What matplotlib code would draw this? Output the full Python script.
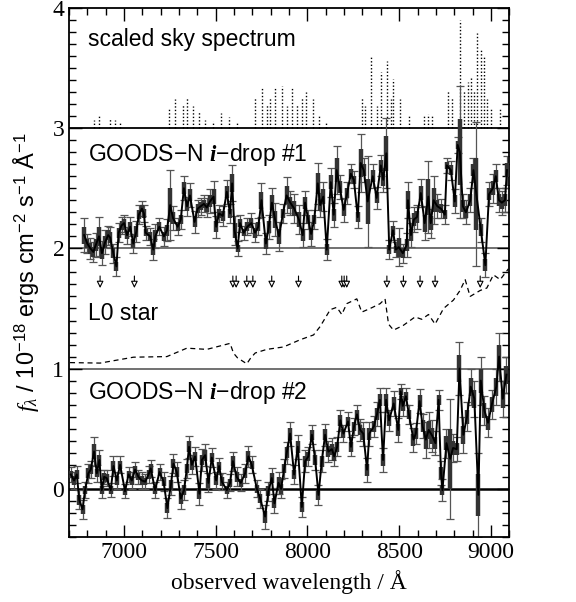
import matplotlib
matplotlib.use("Agg")
import matplotlib.pyplot as plt
import numpy as np
from matplotlib.ticker import MultipleLocator

plt.rcParams['font.family'] = ['Liberation Serif', 'DejaVu Serif']
plt.rcParams['mathtext.fontset'] = 'custom'
plt.rcParams['mathtext.rm'] = 'Liberation Sans'
plt.rcParams['mathtext.it'] = 'Liberation Serif:italic'
plt.rcParams['mathtext.bf'] = 'Liberation Serif:italic:bold'

# sky emission lines (wavelength / A, height above offset)
sky_wl = [6833, 6865, 6924, 6951, 6978, 7242, 7278, 7320, 7342, 7374, 7409, 7442,
          7482, 7527, 7574, 7614, 7714, 7751, 7778, 7793, 7824, 7860, 7887, 7918,
          7942, 7969, 7993, 8029, 8065, 8102, 8296, 8314, 8347, 8378, 8402, 8433,
          8454, 8469, 8502, 8551, 8633, 8656, 8678, 8769, 8787, 8832, 8854, 8878,
          8893, 8909, 8923, 8945, 8963, 8978, 9002, 9051]
sky_h = [0.064, 0.10, 0.08, 0.07, 0.05, 0.16, 0.24, 0.19, 0.25, 0.18, 0.13, 0.07,
         0.06, 0.125, 0.09, 0.05, 0.25, 0.34, 0.19, 0.26, 0.33, 0.35, 0.18, 0.34,
         0.19, 0.26, 0.30, 0.24, 0.11, 0.05, 0.25, 0.18, 0.60, 0.18, 0.47, 0.56,
         0.24, 0.41, 0.24, 0.10, 0.10, 0.12, 0.10, 0.32, 0.26, 0.90, 0.32, 0.38,
         0.42, 0.32, 0.79, 0.65, 0.60, 0.24, 0.17, 0.17]

# GOODS-N i-drop #1
wl1 = [6782, 6799, 6816, 6832, 6846, 6863, 6879, 6896, 6913, 6924, 6941, 6958,
       6970, 6986, 7000, 7016, 7033, 7050, 7067, 7080, 7097, 7108, 7117, 7142,
       7159, 7170, 7192, 7217, 7234, 7251, 7267, 7292, 7309, 7326, 7343, 7359,
       7384, 7401, 7418, 7435, 7451, 7468, 7488, 7502, 7518, 7538, 7560, 7577,
       7589, 7602, 7619, 7632, 7652, 7672, 7694, 7714, 7732, 7749, 7773, 7789,
       7806, 7823, 7845, 7866, 7886, 7906, 7928, 7953, 7974, 7987, 8004, 8020,
       8037, 8056, 8069, 8086, 8105, 8127, 8143, 8159, 8176, 8197, 8217, 8236,
       8253, 8274, 8290, 8307, 8328, 8356, 8377, 8400, 8413, 8430, 8446, 8466,
       8482, 8498, 8520, 8541, 8548, 8564, 8580, 8597, 8618, 8639, 8659, 8672,
       8688, 8708, 8728, 8749, 8760, 8782, 8803, 8819, 8831, 8847, 8864, 8888,
       8905, 8921, 8946, 8970, 8990, 9011, 9027, 9044, 9060, 9077, 9088]
flux1 = [0.11, 0.04, 0.00, -0.03, 0.03, 0.10, -0.04, 0.05, 0.11, 0.09, -0.04, -0.15,
         0.13, 0.19, 0.21, 0.11, 0.18, 0.04, 0.14, 0.28, 0.33, 0.29, 0.13, 0.10,
         -0.01, 0.10, 0.18, 0.10, 0.15, 0.36, 0.25, 0.18, 0.24, 0.50, 0.35, 0.44,
         0.22, 0.33, 0.35, 0.37, 0.34, 0.39, 0.43, 0.18, 0.29, 0.27, 0.47, 0.29,
         0.54, 0.15, 0.00, 0.21, 0.13, 0.18, 0.21, 0.13, 0.18, 0.40, 0.04, 0.18,
         0.38, 0.24, 0.10, 0.29, 0.44, 0.38, 0.33, 0.24, 0.11, 0.38, 0.24, 0.12,
         0.24, 0.54, 0.36, 0.43, -0.01, 0.55, 0.28, 0.65, 0.51, 0.32, 0.46, 0.62,
         0.57, 0.26, 0.71, 0.65, 0.39, 0.60, 0.42, 0.69, 0.57, 0.79, -0.01, 0.15,
         -0.01, 0.01, -0.04, 0.03, 0.40, 0.11, 0.24, 0.26, 0.46, 0.21, 0.43, 0.21,
         0.40, 0.35, 0.33, 0.28, 0.69, 0.65, 0.39, 0.86, 0.80, 0.35, 0.30, 0.40,
         0.65, 0.45, 0.15, -0.14, 0.45, 0.50, 0.60, 0.40, 0.38, 0.40, 0.65]
err1 = [0.14, 0.08, 0.09, 0.08, 0.10, 0.16, 0.10, 0.10, 0.08, 0.09, 0.08, 0.08,
        0.08, 0.07, 0.07, 0.07, 0.08, 0.08, 0.09, 0.08, 0.06, 0.07, 0.06, 0.07,
        0.09, 0.10, 0.07, 0.08, 0.09, 0.29, 0.10, 0.07, 0.08, 0.10, 0.08, 0.10,
        0.09, 0.07, 0.07, 0.07, 0.08, 0.10, 0.13, 0.09, 0.07, 0.08, 0.10, 0.08,
        0.15, 0.12, 0.06, 0.07, 0.06, 0.07, 0.08, 0.08, 0.07, 0.14, 0.09, 0.10,
        0.12, 0.14, 0.12, 0.08, 0.15, 0.10, 0.12, 0.12, 0.10, 0.10, 0.08, 0.10,
        0.08, 0.17, 0.10, 0.12, 0.09, 0.12, 0.10, 0.20, 0.10, 0.10, 0.09, 0.08,
        0.07, 0.09, 0.24, 0.10, 0.38, 0.10, 0.09, 0.09, 0.10, 0.29, 0.08, 0.08,
        0.06, 0.16, 0.08, 0.10, 0.15, 0.10, 0.10, 0.10, 0.12, 0.14, 0.30, 0.12,
        0.20, 0.10, 0.08, 0.08, 0.06, 0.08, 0.10, 0.07, 0.55, 0.10, 0.10, 0.10,
        0.10, 0.60, 0.10, 0.10, 0.10, 0.12, 0.10, 0.10, 0.10, 0.10, 0.12]

# L0 star template
wl_star = [6705, 6869, 7051, 7233, 7342, 7451, 7578, 7596, 7618, 7669, 7691, 7715,
           7778, 7869, 7960, 8033, 8069, 8124, 8160, 8187, 8214, 8269, 8296, 8342,
           8396, 8423, 8442, 8469, 8523, 8587, 8623, 8660, 8696, 8742, 8796, 8832,
           8860, 8887, 8942, 8978, 9014, 9051, 9096]
flux_star = [0.05, 0.046, 0.095, 0.10, 0.17, 0.16, 0.21, 0.13, 0.09, 0.04, 0.09, 0.13,
             0.16, 0.18, 0.24, 0.28, 0.35, 0.49, 0.51, 0.45, 0.54, 0.58, 0.47, 0.50,
             0.54, 0.58, 0.37, 0.32, 0.36, 0.43, 0.41, 0.45, 0.37, 0.50, 0.57, 0.65,
             0.74, 0.60, 0.65, 0.67, 0.78, 0.74, 0.83]

# GOODS-N i-drop #2
wl2 = [6709, 6727, 6742, 6755, 6773, 6787, 6805, 6818, 6836, 6851, 6865, 6878,
       6891, 6905, 6927, 6942, 6960, 6978, 7005, 7024, 7042, 7060, 7078, 7096,
       7115, 7133, 7145, 7169, 7193, 7215, 7236, 7255, 7269, 7287, 7309, 7327,
       7342, 7354, 7369, 7387, 7411, 7424, 7442, 7460, 7478, 7502, 7518, 7533,
       7560, 7578, 7593, 7614, 7636, 7660, 7678, 7696, 7724, 7742, 7769, 7787,
       7805, 7820, 7842, 7856, 7873, 7887, 7905, 7927, 7947, 7969, 7987, 8005,
       8024, 8042, 8060, 8078, 8096, 8114, 8133, 8146, 8162, 8179, 8196, 8221,
       8237, 8254, 8270, 8287, 8304, 8325, 8337, 8362, 8379, 8395, 8412, 8429,
       8445, 8470, 8495, 8508, 8520, 8537, 8553, 8578, 8591, 8611, 8628, 8645,
       8661, 8681, 8698, 8715, 8728, 8736, 8758, 8778, 8794, 8814, 8829, 8850,
       8870, 8890, 8910, 8932, 8945, 8965, 8985, 9005, 9030, 9045, 9065, 9085]
flux2 = [0.12, 0.07, 0.12, -0.09, -0.17, -0.01, 0.13, 0.16, 0.31, 0.13, 0.24, -0.01,
         0.10, 0.09, -0.01, 0.19, 0.07, 0.20, -0.02, 0.12, 0.07, 0.16, 0.10, 0.07,
         0.06, 0.12, 0.17, -0.01, 0.14, 0.06, -0.16, 0.03, 0.21, 0.14, -0.08, -0.01,
         0.17, 0.35, 0.20, 0.27, -0.04, 0.24, 0.28, 0.05, 0.26, 0.07, 0.19, 0.06,
         -0.01, 0.05, 0.23, 0.10, 0.05, 0.13, 0.27, 0.20, 0.00, -0.08, -0.23, -0.02,
         0.09, -0.12, 0.05, 0.00, 0.17, 0.30, 0.46, 0.12, 0.35, -0.15, 0.23, 0.27,
         0.45, 0.24, -0.05, 0.23, 0.45, 0.31, 0.33, 0.27, 0.35, 0.57, 0.46, 0.56,
         0.35, 0.52, 0.62, 0.49, 0.46, 0.16, 0.46, 0.52, 0.62, 0.74, 0.24, 0.74,
         0.57, 0.71, 0.49, 0.81, 0.69, 0.77, 0.62, 0.41, 0.46, 0.73, 0.52, 0.41,
         0.49, 0.44, 0.38, 0.74, 0.13, -0.01, 0.38, 0.25, 0.34, 0.33, 1.00, 0.45,
         0.60, 0.85, 0.75, -0.05, 0.90, 0.65, 0.55, 0.70, 0.85, 1.10, 0.75, 0.95]
err2 = [0.06, 0.07, 0.07, 0.08, 0.08, 0.07, 0.08, 0.07, 0.12, 0.07, 0.08, 0.07,
        0.06, 0.07, 0.06, 0.08, 0.07, 0.07, 0.06, 0.06, 0.07, 0.06, 0.06, 0.07,
        0.06, 0.07, 0.07, 0.07, 0.07, 0.08, 0.08, 0.08, 0.08, 0.08, 0.09, 0.08,
        0.08, 0.09, 0.08, 0.08, 0.09, 0.09, 0.09, 0.08, 0.08, 0.07, 0.07, 0.07,
        0.07, 0.07, 0.08, 0.08, 0.07, 0.08, 0.09, 0.07, 0.07, 0.08, 0.10, 0.08,
        0.08, 0.08, 0.09, 0.08, 0.08, 0.09, 0.10, 0.08, 0.10, 0.08, 0.09, 0.08,
        0.08, 0.08, 0.08, 0.09, 0.09, 0.09, 0.09, 0.08, 0.08, 0.09, 0.07, 0.08,
        0.08, 0.07, 0.08, 0.09, 0.10, 0.10, 0.10, 0.09, 0.10, 0.10, 0.10, 0.10,
        0.09, 0.10, 0.10, 0.06, 0.08, 0.07, 0.08, 0.10, 0.09, 0.10, 0.10, 0.15,
        0.15, 0.13, 0.10, 0.08, 0.10, 0.09, 0.12, 0.50, 0.12, 0.10, 0.22, 0.15,
        0.12, 0.15, 0.15, 0.35, 0.20, 0.12, 0.12, 0.12, 0.15, 0.20, 0.15, 0.15]

# marked sky-line positions (arrows)
arrow_wl = [6869, 7056, 7593, 7611, 7669, 7702, 7805, 7951, 8187, 8200, 8214,
            8433, 8523, 8614, 8696, 8942]

off_sky, off1, off_star, off2 = 3, 2, 1, 0

fig = plt.figure(figsize=(5.76, 6.02), dpi=100)
ax = fig.add_axes([0.12, 0.108, 0.764, 0.879])

for y0, c, lw in [(0, 'k', 1.8), (1, '#666666', 1.3), (2, '#666666', 1.3), (3, 'k', 1.3)]:
    ax.axhline(y0, color=c, lw=lw, zorder=1)

# sky
ax.vlines(sky_wl, off_sky, np.array(sky_h) + off_sky, colors='k',
          linestyles=(0, (1, 1.5)), lw=1.0)

# spectra with error bars
for wl, fl, er, off in [(wl1, flux1, err1, off1), (wl2, flux2, err2, off2)]:
    y = np.array(fl) + off
    e = np.array(er)
    ax.errorbar(wl, y, yerr=e, fmt='none', ecolor='#555555', elinewidth=0.9,
                capsize=3, capthick=0.9, zorder=2)
    ax.errorbar(wl, y, yerr=e * 0.5, fmt='none', ecolor='#333333', elinewidth=3.2,
                capsize=0, zorder=3)
    ax.plot(wl, y, color='k', lw=1.4, zorder=4)

# L0 star
ax.plot(wl_star, np.array(flux_star) + off_star, color='k', lw=0.9, ls=(0, (4, 3)))

for xa in arrow_wl:
    ax.annotate('', xy=(xa, 1.67), xytext=(xa, 1.77),
                arrowprops=dict(arrowstyle='-|>', fc='white', ec='k', lw=0.8,
                                mutation_scale=10, shrinkA=0, shrinkB=0))

tkw = dict(family=['Liberation Sans', 'DejaVu Sans'], fontsize=16.5, va='center')
ax.text(6805, 3.74, 'scaled sky spectrum', **tkw)
ax.text(6805, 2.78, 'GOODS\u2212N $\\mathbf{i}$\u2212drop #1', **tkw)
ax.text(6805, 1.46, 'L0 star', **tkw)
ax.text(6805, 0.80, 'GOODS\u2212N $\\mathbf{i}$\u2212drop #2', **tkw)

ax.set_xlim(6700, 9100)
ax.set_ylim(-0.4, 4.0)
ax.xaxis.set_major_locator(MultipleLocator(500))
ax.xaxis.set_minor_locator(MultipleLocator(100))
ax.yaxis.set_major_locator(MultipleLocator(1))
ax.yaxis.set_minor_locator(MultipleLocator(0.1))
ax.tick_params(which='both', direction='in', top=True, right=True, width=1.0)
ax.tick_params(which='major', length=9, labelsize=17)
ax.tick_params(which='minor', length=5)
for s in ax.spines.values():
    s.set_linewidth(1.3)

ax.set_xlabel('observed wavelength / \u00c5', fontsize=17, labelpad=5)
ax.set_ylabel('$f_\\lambda$ / 10$^{\u221218}$ ergs cm$^{\u22122}$ s$^{\u22121}$ \u00c5$^{\u22121}$',
              family=['Liberation Sans', 'DejaVu Sans'], fontsize=17, labelpad=8)

fig.savefig('out.png', dpi=100)
